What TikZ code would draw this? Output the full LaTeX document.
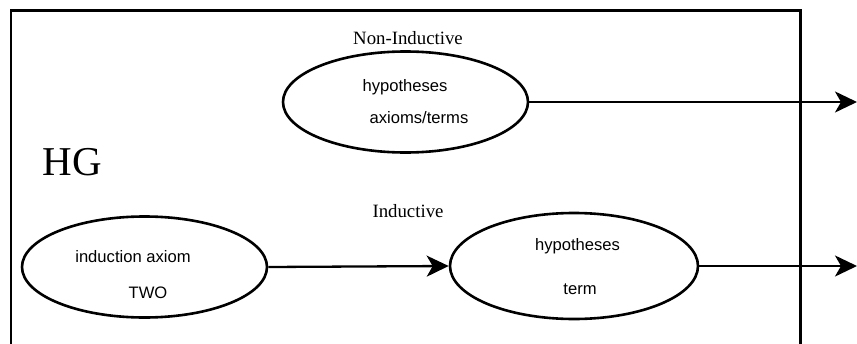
\documentclass[tikz,border=0pt]{standalone}
\usepackage{fontspec}
\setmainfont{Liberation Serif}
\newfontfamily\arialf{Liberation Sans}
\usetikzlibrary{shapes.geometric,arrows.meta}
\tikzset{
  oval/.style={ellipse, draw, line width=2.6pt, inner sep=0pt},
  intext/.style={font=\arialf\fontsize{16.6}{18}\selectfont, anchor=base, inner sep=0pt},
  lbl/.style={font=\fontsize{18.8}{20}\selectfont, anchor=base, inner sep=0pt},
  flow/.style={line width=2.3pt, -{Stealth[length=22pt, width=21pt, inset=6pt]}},
}
\begin{document}
\begin{tikzpicture}[x=1pt,y=-1pt]
\useasboundingbox (0,0) rectangle (857,343);
% frame
\draw[line width=2.6pt] (11,345) -- (11,10.5) -- (800.7,10.5) -- (800.7,345);
% labels
\node[lbl] (noninductive) at (408,44) {Non-Inductive};
\node[lbl] (inductive) at (408,217) {Inductive};
\node[font=\fontsize{41}{44}\selectfont, anchor=base, inner sep=0pt] (hg) at (72.5,175) {HG};
% ellipses
\node[oval, minimum width=245pt, minimum height=101pt] (top) at (405.5,102) {};
\node[oval, minimum width=245pt, minimum height=101pt] (ind) at (144.5,267) {};
\node[oval, minimum width=248pt, minimum height=106pt] (hyp) at (574,266) {};
% ellipse texts
\node[intext] (t1) at (405,91) {hypotheses};
\node[intext] (t2) at (419,123) {axioms/terms};
\node[intext] (b1) at (133,262) {induction axiom};
\node[intext] (b2) at (148,298) {TWO};
\node[intext] (h1) at (577.5,250) {hypotheses};
\node[intext] (h2) at (580,294) {term};
% out ends
\coordinate (out1) at (857,102);
\coordinate (out2) at (857,266);
% connectors
\draw[flow] (top.east) -- (out1);
\draw[flow] (ind.east) -- (hyp.west);
\draw[flow] (hyp.east) -- (out2);
\end{tikzpicture}
\end{document}
